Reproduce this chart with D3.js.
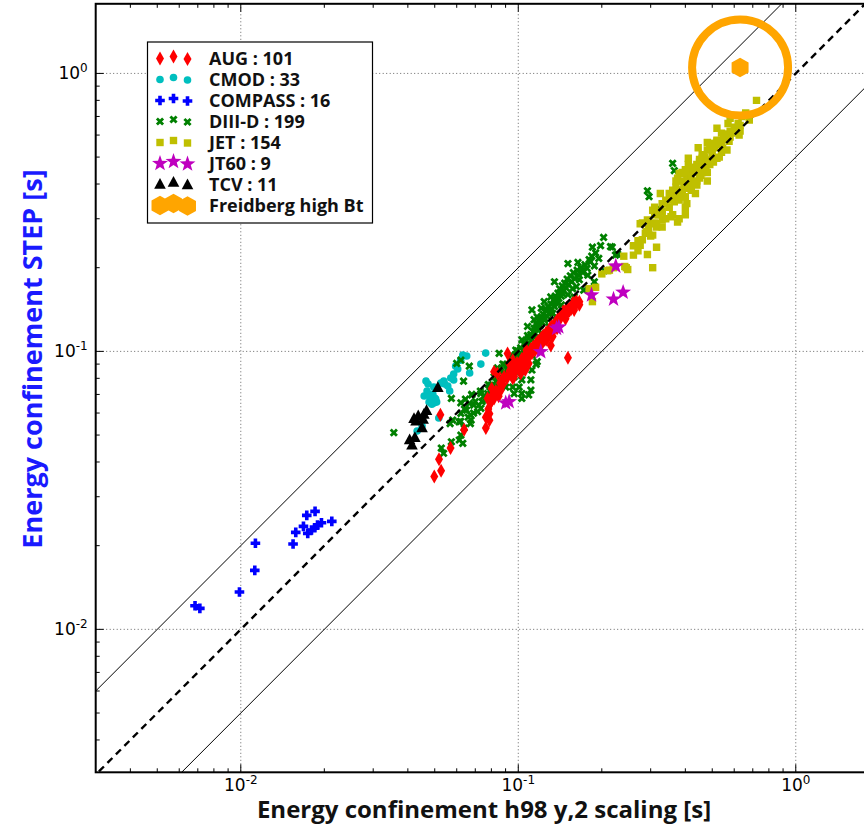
<!DOCTYPE html>
<html>
<head>
<meta charset="utf-8">
<script src="https://cdn.jsdelivr.net/npm/d3@7"></script>
<style>
  body { margin: 0; background: #fff; }
  svg { display: block; }
</style>
</head>
<body>
<svg id="chart" width="864" height="824"></svg>
<script>
// Energy confinement time: STEP scaling vs. H98(y,2) scaling, per device [s]
const AUG = [
  [0.0498,0.0355],[0.0527,0.0372],[0.0518,0.0409],[0.057,0.0449],[0.0638,0.0523],[0.0764,0.053],[0.0524,0.0592],[0.151,0.0949],[0.0793,0.0653],[0.0818,0.0677],
  [0.0841,0.0705],[0.0865,0.0744],[0.0875,0.079],[0.0966,0.081],[0.102,0.0833],[0.105,0.0884],[0.109,0.0905],[0.108,0.0957],[0.112,0.0985],[0.117,0.103],
  [0.122,0.107],[0.127,0.111],[0.129,0.116],[0.133,0.121],[0.137,0.124],[0.141,0.13],[0.14,0.133],[0.148,0.137],[0.155,0.142],[0.157,0.149],
  [0.162,0.149],[0.166,0.151],[0.161,0.153],[0.0955,0.093],[0.0928,0.0905],[0.0841,0.0833],[0.0802,0.0735],[0.0775,0.0677],[0.0787,0.0597],[0.0764,0.0579],
  [0.0915,0.0983],[0.0818,0.0845],[0.0955,0.08],[0.0775,0.0588],[0.0787,0.0565],[0.0865,0.0725],[0.103,0.0857],[0.105,0.0905],[0.107,0.101],[0.138,0.121],
  [0.129,0.119],[0.133,0.113],[0.126,0.11],[0.131,0.105],[0.161,0.147],[0.166,0.147],[0.159,0.141],[0.15,0.137],[0.148,0.131],[0.141,0.133],
  [0.106,0.0857],
  [0.078,0.062],[0.080,0.066],[0.081,0.070],[0.083,0.072],[0.085,0.069],[0.086,0.077],[0.088,0.076],[0.089,0.081],[0.091,0.080],[0.093,0.085],
  [0.094,0.083],[0.096,0.088],[0.098,0.086],[0.099,0.091],[0.101,0.088],[0.103,0.094],[0.104,0.092],[0.106,0.097],[0.108,0.099],[0.110,0.097],
  [0.111,0.102],[0.113,0.104],[0.115,0.101],[0.116,0.107],[0.118,0.109],[0.119,0.106],[0.121,0.112],[0.123,0.114],[0.124,0.110],[0.126,0.117],
  [0.128,0.115],[0.130,0.121],[0.132,0.124],[0.134,0.119],[0.136,0.127],[0.139,0.129],[0.142,0.134],[0.145,0.139],[0.150,0.144],[0.153,0.140]
];
const CMOD = [
  [0.0763,0.0986],[0.0733,0.09],[0.0652,0.0962],[0.0668,0.0836],[0.0595,0.0885],[0.0585,0.0829],[0.0585,0.0789],[0.0465,0.0782],[0.0539,0.0782],[0.0543,0.0763],
  [0.0566,0.072],[0.0496,0.0744],[0.0492,0.0702],[0.0458,0.0691],[0.0477,0.0657],[0.0496,0.0652],[0.0508,0.0657],[0.0517,0.0576],[0.0432,0.0517],[0.0484,0.0669],
  [0.0504,0.0674],[0.0526,0.0769],[0.0473,0.0763],[0.062,0.093],[0.0605,0.0864],[0.0469,0.072],[0.0557,0.075],[0.0488,0.0646],[0.05,0.068],[0.045,0.0539],
  [0.0571,0.0802],[0.0631,0.097],[0.0481,0.0691]
];
const COMPASS = [
  [0.00684,0.01216],[0.00712,0.0119],[0.00989,0.01362],[0.01123,0.0163],[0.01129,0.0204],[0.01543,0.02027],[0.01578,0.02233],[0.01682,0.02347],
  [0.01729,0.0257],[0.01852,0.02657],[0.01743,0.02215],[0.01798,0.02276],[0.01848,0.0232],[0.0189,0.02372],[0.01953,0.02418],[0.02128,0.02446]
];
const DIIID = [
  [0.203,0.257],[0.198,0.24],[0.215,0.238],[0.185,0.237],[0.228,0.224],[0.151,0.207],[0.164,0.209],[0.182,0.21],[0.188,0.203],[0.171,0.192],
  [0.178,0.188],[0.166,0.181],[0.188,0.178],[0.135,0.178],[0.157,0.168],[0.162,0.171],[0.172,0.166],[0.144,0.162],[0.151,0.16],[0.159,0.157],
  [0.138,0.155],[0.131,0.157],[0.124,0.151],[0.135,0.149],[0.143,0.147],[0.112,0.141],[0.121,0.143],[0.127,0.141],[0.133,0.137],[0.137,0.133],
  [0.117,0.133],[0.124,0.13],[0.114,0.13],[0.108,0.123],[0.117,0.124],[0.129,0.123],[0.108,0.114],[0.114,0.113],[0.121,0.116],[0.103,0.11],
  [0.109,0.107],[0.098,0.101],[0.105,0.0997],[0.0853,0.0984],[0.094,0.0956],[0.0993,0.0944],[0.103,0.0918],[0.117,0.0918],[0.112,0.097],[0.102,0.0884],
  [0.0888,0.0897],[0.0841,0.0872],[0.0865,0.0845],[0.0818,0.081],[0.0875,0.08],[0.0853,0.0766],[0.0901,0.0744],[0.0955,0.0744],[0.0793,0.0755],[0.0826,0.0725],
  [0.0775,0.0705],[0.0966,0.0705],[0.111,0.0725],[0.103,0.0705],[0.109,0.0697],[0.103,0.0677],[0.0733,0.0705],[0.068,0.0697],[0.0645,0.0673],[0.0621,0.0653],
  [0.0666,0.065],[0.0691,0.0641],[0.0733,0.0624],[0.0714,0.0607],[0.0651,0.0615],[0.0621,0.0598],[0.0672,0.0591],[0.058,0.0566],[0.0568,0.055],[0.0612,0.0558],
  [0.0676,0.0566],[0.0638,0.053],[0.0672,0.055],[0.0621,0.05],[0.0613,0.048],[0.0631,0.0467],[0.0574,0.0473],[0.0528,0.0449],[0.0538,0.043],[0.0356,0.051],
  [0.06,0.0905],[0.0621,0.093],[0.0666,0.0885],[0.0635,0.0781],[0.0574,0.0677],[0.0993,0.1005],[0.108,0.0957],[0.116,0.0898],[0.103,0.0845],[0.111,0.079],
  [0.103,0.079],[0.0966,0.081],[0.1007,0.0744],[0.112,0.0857],[0.36,0.475],[0.365,0.447],[0.292,0.378],[0.296,0.36],[0.321,0.327],[0.218,0.237],
  [0.224,0.222],[0.204,0.195],
  [0.064,0.062],[0.066,0.058],[0.069,0.060],[0.070,0.066],[0.072,0.064],[0.074,0.066],[0.075,0.069],[0.077,0.067],[0.079,0.072],[0.080,0.070],
  [0.082,0.075],[0.083,0.078],[0.084,0.073],[0.086,0.080],[0.087,0.078],[0.089,0.083],[0.090,0.081],[0.091,0.086],[0.092,0.084],[0.093,0.089],
  [0.095,0.087],[0.096,0.092],[0.097,0.090],[0.099,0.096],[0.100,0.093],[0.101,0.098],[0.102,0.103],[0.104,0.101],[0.105,0.106],[0.106,0.104],
  [0.107,0.109],[0.109,0.112],[0.110,0.104],[0.111,0.115],[0.112,0.110],[0.113,0.118],[0.114,0.121],[0.115,0.116],[0.116,0.126],[0.118,0.120],
  [0.119,0.128],[0.120,0.124],[0.121,0.133],[0.122,0.127],[0.123,0.136],[0.125,0.131],[0.126,0.140],[0.127,0.134],[0.128,0.145],[0.130,0.138],
  [0.131,0.148],[0.132,0.142],[0.134,0.153],[0.135,0.145],[0.136,0.158],[0.138,0.150],[0.139,0.162],[0.140,0.155],[0.141,0.168],[0.143,0.158],
  [0.144,0.172],[0.146,0.165],[0.147,0.176],[0.149,0.169],[0.150,0.182],[0.152,0.174],[0.154,0.187],[0.156,0.178],[0.158,0.192],[0.160,0.183],
  [0.163,0.196],[0.165,0.188],[0.168,0.200],[0.170,0.195],[0.174,0.205],[0.177,0.199],[0.180,0.214],[0.184,0.220],[0.190,0.226],[0.195,0.216],
  [0.106,0.095],[0.094,0.097],[0.088,0.090],[0.078,0.076],[0.073,0.072],[0.068,0.070],[0.062,0.056]
];
const JET = [
  [0.722,0.80],[0.58,0.69],[0.63,0.65],[0.68,0.68],[0.52,0.635],[0.54,0.61],[0.565,0.605],[0.61,0.625],[0.625,0.60],[0.58,0.59],
  [0.55,0.585],[0.52,0.575],[0.48,0.565],[0.495,0.56],[0.54,0.555],[0.575,0.57],[0.545,0.537],[0.565,0.53],[0.445,0.54],[0.41,0.495],
  [0.465,0.51],[0.46,0.495],[0.487,0.488],[0.52,0.495],[0.505,0.48],[0.45,0.48],[0.455,0.466],[0.475,0.46],[0.44,0.45],[0.43,0.443],
  [0.40,0.437],[0.38,0.437],[0.375,0.42],[0.405,0.42],[0.42,0.43],[0.455,0.43],[0.48,0.41],[0.44,0.397],[0.42,0.41],[0.395,0.402],
  [0.40,0.386],[0.42,0.38],[0.435,0.37],[0.385,0.38],[0.37,0.37],[0.385,0.36],[0.355,0.36],[0.365,0.345],[0.325,0.37],[0.405,0.34],
  [0.40,0.33],[0.335,0.34],[0.31,0.33],[0.305,0.322],[0.33,0.318],[0.355,0.305],[0.375,0.292],[0.40,0.31],[0.38,0.30],[0.292,0.297],
  [0.275,0.288],[0.30,0.288],[0.33,0.297],[0.315,0.28],[0.33,0.28],[0.295,0.277],[0.305,0.262],[0.287,0.266],[0.28,0.252],[0.275,0.241],
  [0.315,0.237],[0.26,0.222],[0.292,0.223],[0.305,0.20],[0.245,0.20],[0.21,0.195],[0.213,0.196],[0.242,0.202],[0.248,0.197],[0.185,0.151],
  [0.18,0.168],[0.315,0.288],[0.273,0.241],
  [0.43,0.46],[0.47,0.50],[0.39,0.41],[0.41,0.40],[0.45,0.42],[0.36,0.35],[0.38,0.37],[0.42,0.45],[0.50,0.52],[0.53,0.56],
  [0.56,0.60],[0.60,0.64],[0.35,0.33],[0.33,0.32],[0.44,0.47],[0.46,0.44],[0.40,0.36],[0.37,0.39],[0.48,0.53],[0.51,0.54],
  [0.55,0.58],[0.59,0.61],[0.62,0.66],[0.64,0.70],[0.66,0.72],
  [0.57,0.66],[0.31,0.29],[0.29,0.27],[0.27,0.25],[0.32,0.31],[0.34,0.30],[0.36,0.31],[0.26,0.24],[0.30,0.26],[0.44,0.44],
  [0.41,0.43],[0.39,0.44],[0.45,0.49],[0.49,0.47],[0.47,0.47],[0.43,0.40],[0.38,0.35],[0.42,0.39],[0.40,0.45],[0.46,0.51],
  [0.52,0.57],[0.54,0.52],[0.50,0.49],[0.44,0.41],[0.36,0.38],[0.34,0.35],[0.33,0.34],[0.31,0.31],[0.28,0.29],[0.22,0.20],
  [0.20,0.19],[0.19,0.17],[0.24,0.22],[0.27,0.23],[0.58,0.62],[0.63,0.62],[0.49,0.56],[0.40,0.39],[0.37,0.41],[0.35,0.37],
  [0.48,0.44],[0.53,0.50],[0.42,0.42],[0.39,0.38],[0.45,0.46],[0.41,0.47]
];
const JT60 = [
  [0.0927,0.0659],[0.0901,0.0652],[0.1205,0.0997],[0.1374,0.121],[0.14,0.1223],[0.1836,0.1595],[0.2204,0.1541],[0.2387,0.1631],[0.2246,0.2027]
];
const TCV = [
  [0.0513,0.074],[0.0467,0.0611],[0.0457,0.0593],[0.0421,0.0572],[0.0454,0.0569],[0.0428,0.056],[0.045,0.053],[0.0424,0.0489],[0.0414,0.0459],[0.0436,0.0585],[0.0406,0.048]
];
const FREIDBERG = [[0.63,1.05]];

const majorTicks = [0.01, 0.1, 1];
const tickExponents = ["-2", "-1", "0"];
const xDomain = [0.003, 2];
const yDomain = [0.00306, 1.78];
const boundRatios = [2, 0.5];   // solid guide lines: y = 2x and y = x/2

const svg = d3.select("#chart");
const pL = 95.7, pR = 879.3, pT = 3.8, pB = 772.3;
const x = d3.scaleLog().domain(xDomain).range([pL, pR]);
const y = d3.scaleLog().domain(yDomain).range([pB, pT]);

svg.append("defs").append("clipPath").attr("id", "plotclip")
  .append("rect").attr("x", pL).attr("y", pT).attr("width", pR - pL).attr("height", pB - pT);

// dotted grid at the decades
const grid = svg.append("g").attr("stroke", "#666").attr("stroke-width", 1).attr("stroke-dasharray", "1,2.5");
majorTicks.forEach(v => {
  grid.append("line").attr("x1", x(v)).attr("x2", x(v)).attr("y1", pT).attr("y2", pB);
  grid.append("line").attr("x1", pL).attr("x2", pR).attr("y1", y(v)).attr("y2", y(v));
});

// marker shapes
function crossPath(a, t) {
  return `M${-t},${-a}L${t},${-a}L${t},${-t}L${a},${-t}L${a},${t}L${t},${t}L${t},${a}L${-t},${a}L${-t},${t}L${-a},${t}L${-a},${-t}L${-t},${-t}Z`;
}
function starPath(ro, ri) {
  const p = d3.range(10).map(i => {
    const r = i % 2 ? ri : ro, a = -Math.PI / 2 + i * Math.PI / 5;
    return [r * Math.cos(a), r * Math.sin(a)];
  });
  return "M" + p.map(q => q.join(",")).join("L") + "Z";
}
function hexPath(r) {
  const p = d3.range(6).map(i => {
    const a = -Math.PI / 2 + i * Math.PI / 3;
    return [r * Math.cos(a), r * Math.sin(a)];
  });
  return "M" + p.map(q => q.join(",")).join("L") + "Z";
}
const shapes = {
  diamond: "M0,-7L4,0L0,7L-4,0Z",
  circle: d3.symbol().type(d3.symbolCircle).size(Math.PI * 3.8 * 3.8)(),
  plus: crossPath(4.8, 1.8),
  x: crossPath(4.4, 1.4),
  square: "M-3.7,-3.7H3.7V3.7H-3.7Z",
  star: starPath(8.4, 3.4),
  triangle: "M0,-6.5L5.8,4.2L-5.8,4.2Z",
  hexagon: hexPath(9.8)
};

const series = [
  { name: "AUG", values: AUG, color: "#ff0000", shape: "diamond" },
  { name: "CMOD", values: CMOD, color: "#00bfbf", shape: "circle" },
  { name: "COMPASS", values: COMPASS, color: "#0000ff", shape: "plus" },
  { name: "DIII-D", values: DIIID, color: "#008000", shape: "x", rot: 45 },
  { name: "JET", values: JET, color: "#bfbf00", shape: "square" },
  { name: "JT60", values: JT60, color: "#bf00bf", shape: "star" },
  { name: "TCV", values: TCV, color: "#000000", shape: "triangle" },
  { name: "Freidberg high Bt", values: FREIDBERG, color: "#ffa500", shape: "hexagon", noCount: true }
];

// stacking: DIII-D underneath, the AUG band above it
const drawOrder = ["CMOD", "COMPASS", "DIII-D", "AUG", "JET", "JT60", "TCV"];
const plot = svg.append("g").attr("clip-path", "url(#plotclip)");
const marks = plot.append("g");
drawOrder.forEach(name => {
  const s = series.find(d => d.name === name);
  marks.append("g").selectAll("path").data(s.values).join("path")
    .attr("d", shapes[s.shape])
    .attr("fill", s.color)
    .attr("transform", d => `translate(${x(d[0])},${y(d[1])})` + (s.rot ? ` rotate(${s.rot})` : ""));
});

// guide lines: y = x dashed, y = 2x and y = x/2 solid
const line = d3.line().x(d => x(d[0])).y(d => y(d[1]));
const span = [0.001, 4];
boundRatios.forEach(r => {
  plot.append("path").attr("d", line(span.map(v => [v, v * r])))
    .attr("fill", "none").attr("stroke", "#000").attr("stroke-width", 1);
});
plot.append("path").attr("d", line(span.map(v => [v, v])))
  .attr("fill", "none").attr("stroke", "#000").attr("stroke-width", 2.4).attr("stroke-dasharray", "7,5");

// high-field point with its highlight ring
const fb = series[7];
plot.append("g").selectAll("circle").data(fb.values).join("circle")
  .attr("cx", d => x(d[0])).attr("cy", d => y(d[1])).attr("r", 48)
  .attr("fill", "none").attr("stroke", fb.color).attr("stroke-width", 8);
plot.append("g").selectAll("path").data(fb.values).join("path")
  .attr("d", shapes.hexagon).attr("fill", fb.color)
  .attr("transform", d => `translate(${x(d[0])},${y(d[1])})`);

// ticks (inward, major on decades, minor in between)
const minorTicks = [];
[0.001, 0.01, 0.1, 1].forEach(dec => d3.range(2, 10).forEach(m => minorTicks.push(dec * m)));
const tk = svg.append("g").attr("stroke", "#000").attr("stroke-width", 1);
const xMinor = minorTicks.filter(v => v > xDomain[0] && v < xDomain[1]);
const yMinor = minorTicks.filter(v => v > yDomain[0] && v < yDomain[1]);
xMinor.forEach(v => {
  tk.append("line").attr("x1", x(v)).attr("x2", x(v)).attr("y1", pB).attr("y2", pB - 4);
  tk.append("line").attr("x1", x(v)).attr("x2", x(v)).attr("y1", pT).attr("y2", pT + 4);
});
yMinor.forEach(v => {
  tk.append("line").attr("x1", pL).attr("x2", pL + 4).attr("y1", y(v)).attr("y2", y(v));
  tk.append("line").attr("x1", pR).attr("x2", pR - 4).attr("y1", y(v)).attr("y2", y(v));
});
majorTicks.forEach(v => {
  tk.append("line").attr("x1", x(v)).attr("x2", x(v)).attr("y1", pB).attr("y2", pB - 8);
  tk.append("line").attr("x1", x(v)).attr("x2", x(v)).attr("y1", pT).attr("y2", pT + 8);
  tk.append("line").attr("x1", pL).attr("x2", pL + 8).attr("y1", y(v)).attr("y2", y(v));
  tk.append("line").attr("x1", pR).attr("x2", pR - 8).attr("y1", y(v)).attr("y2", y(v));
});

// frame
svg.append("rect").attr("x", pL).attr("y", pT).attr("width", pR - pL).attr("height", pB - pT)
  .attr("fill", "none").attr("stroke", "#000").attr("stroke-width", 2);

// tick labels 10^n
const tickFont = "'DejaVu Sans', sans-serif";
majorTicks.forEach((v, i) => {
  const tx = svg.append("text").attr("x", x(v)).attr("y", 791)
    .attr("text-anchor", "middle").attr("font-family", tickFont).attr("font-size", 17).attr("fill", "#000");
  tx.append("tspan").text("10");
  tx.append("tspan").attr("dy", -7).attr("font-size", 12).text(tickExponents[i]);
  const ty = svg.append("text").attr("x", pL - 8).attr("y", y(v) + 6)
    .attr("text-anchor", "end").attr("font-family", tickFont).attr("font-size", 17).attr("fill", "#000");
  ty.append("tspan").text("10");
  ty.append("tspan").attr("dy", -7).attr("font-size", 12).text(tickExponents[i]);
});

// axis titles
const titleFont = "'Open Sans', Lato, sans-serif";
svg.append("text").attr("x", 484).attr("y", 818).attr("text-anchor", "middle")
  .attr("font-family", titleFont).attr("font-weight", "bold").attr("font-size", 24)
  .attr("fill", "#111").text("Energy confinement h98 y,2 scaling [s]");
svg.append("text").attr("transform", "translate(42,359) rotate(-90)").attr("text-anchor", "middle")
  .attr("font-family", titleFont).attr("font-weight", "bold").attr("font-size", 27)
  .attr("fill", "#1a1aff").text("Energy confinement STEP [s]");

// legend
const lg = svg.append("g");
lg.append("rect").attr("x", 147.5).attr("y", 42).attr("width", 225).attr("height", 181)
  .attr("fill", "#fff").attr("stroke", "#000").attr("stroke-width", 1.2);
const markerX = [160, 173.5, 187.5], markerDy = [0.5, -1.5, 1];
series.forEach((s, i) => {
  const cy = 58 + i * 21;
  markerX.forEach((mx, j) => {
    lg.append("path").attr("d", shapes[s.shape]).attr("fill", s.color)
      .attr("transform", `translate(${mx},${cy + markerDy[j]})` + (s.rot ? ` rotate(${s.rot})` : ""));
  });
  lg.append("text").attr("x", 209).attr("y", cy + 7)
    .attr("font-family", titleFont).attr("font-weight", "bold").attr("font-size", 18).attr("fill", "#111")
    .text(s.noCount ? s.name : `${s.name} : ${s.values.length}`);
});
</script>
</body>
</html>
